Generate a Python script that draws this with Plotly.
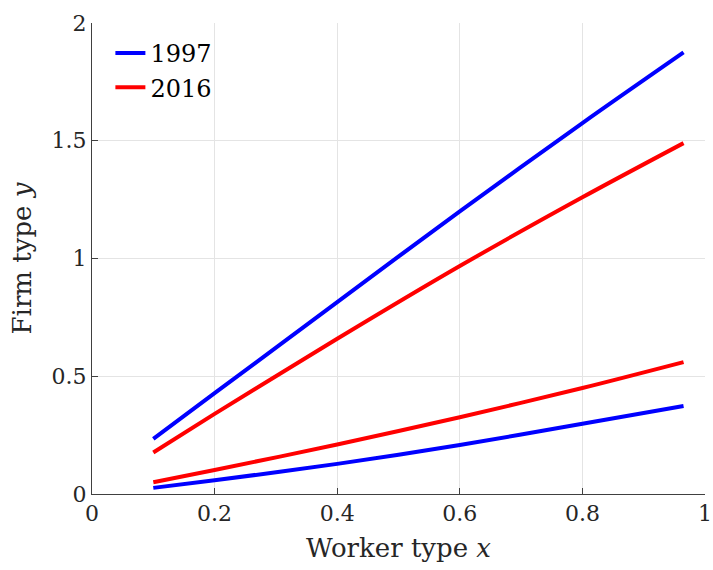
import plotly.graph_objects as go

# Worker type grid
x_vals = [0.1, 0.2, 0.4, 0.6, 0.8, 0.965]

# Upper and lower firm-type bounds for each year
upper_1997 = [0.234, 0.428, 0.815, 1.200, 1.575, 1.875]
lower_1997 = [0.026, 0.058, 0.128, 0.208, 0.298, 0.374]
upper_2016 = [0.176, 0.340, 0.659, 0.968, 1.260, 1.490]
lower_2016 = [0.050, 0.102, 0.210, 0.326, 0.450, 0.560]

x_ticks = [0, 0.2, 0.4, 0.6, 0.8, 1]
x_tick_text = ["0", "0.2", "0.4", "0.6", "0.8", "1"]
y_ticks = [0, 0.5, 1, 1.5, 2]
y_tick_text = ["0", "0.5", "1", "1.5", "2"]

FONT = "DejaVu Serif"
BLUE = "#0000ff"
RED = "#ff0000"

fig = go.Figure()

series = [
    ("1997", upper_1997, BLUE, True),
    ("1997", lower_1997, BLUE, False),
    ("2016", upper_2016, RED, True),
    ("2016", lower_2016, RED, False),
]
for name, ys, color, show in series:
    fig.add_trace(go.Scatter(
        x=x_vals, y=ys, mode="lines", name=name,
        legendgroup=name, showlegend=show,
        line=dict(color=color, width=4, shape="spline", smoothing=0.8),
    ))

axis_common = dict(
    showline=True, linecolor="#404040", linewidth=1,
    ticks="inside", ticklen=6, tickcolor="#404040", tickwidth=1,
    showgrid=True, gridcolor="#e4e4e4", gridwidth=1,
    zeroline=False, mirror=False, ticklabeloverflow="allow",
    automargin=False,
    tickfont=dict(family=FONT, size=22, color="#262626"),
)

fig.update_xaxes(
    range=[0, 1], tickvals=x_ticks, ticktext=x_tick_text,
    title=dict(text="Worker type <i>x</i>", font=dict(family=FONT, size=26, color="#262626"), standoff=13),
    **axis_common,
)
fig.update_yaxes(
    range=[0, 2], tickvals=y_ticks, ticktext=y_tick_text,
    title=dict(text="Firm type <i>y</i>", font=dict(family=FONT, size=26, color="#262626"), standoff=12),
    **axis_common,
)

fig.update_layout(
    width=713, height=570,
    margin=dict(l=92, r=8, t=23, b=76),
    plot_bgcolor="white", paper_bgcolor="white",
    legend=dict(
        x=0.03, y=0.983, xanchor="left", yanchor="top",
        bgcolor="rgba(255,255,255,0)", borderwidth=0,
        font=dict(family=FONT, size=24, color="#000000"),
        tracegroupgap=0,
    ),
)

fig.write_html("out.html")
